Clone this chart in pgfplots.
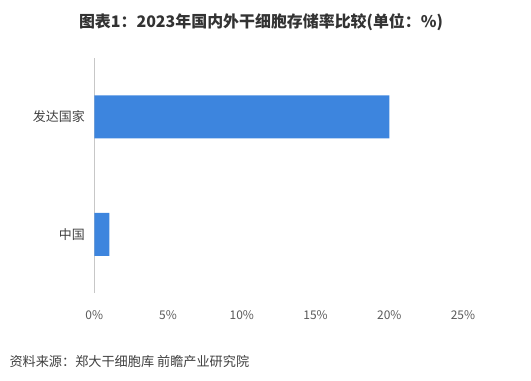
\documentclass[border=0pt]{standalone}
\usepackage{fontspec}
\setmainfont{Noto Sans CJK SC}
\usepackage{pgfplots}
\pgfplotsset{compat=1.18}
\definecolor{barblue}{RGB}{61,133,222}
\definecolor{txt}{RGB}{64,64,64}
\definecolor{tick}{RGB}{89,89,89}
\begin{document}
\begin{tikzpicture}
\path[use as bounding box] (0bp,0bp) rectangle (531bp,-381bp);
\node[font=\fontsize{16}{18}\selectfont\bfseries, text=black!80] at (261bp,-22bp) {图表1：2023年国内外干细胞存储率比较(单位：\%)};
\node[font=\fontsize{13.2}{15}\selectfont, text=txt, anchor=west] at (6bp,-361bp) {资料来源：郑大干细胞库 前瞻产业研究院};
\begin{axis}[
  at={(94.3bp,-293bp)}, anchor=south west,
  scale only axis, width=368.7bp, height=235bp,
  xmin=0, xmax=25, ymin=-0.5, ymax=1.5,
  xbar, bar width=43bp,
  axis x line*=bottom, axis y line*=left,
  x axis line style={draw=none},
  y axis line style={draw=black!22, -},
  major tick length=0pt,
  xtick={0,5,10,15,20,25},
  xticklabels={0\%,5\%,10\%,15\%,20\%,25\%},
  ytick={0,1},
  yticklabels={中国,发达国家},
  xticklabel style={font=\fontsize{12}{14}\selectfont, text=tick, yshift=-14bp},
  yticklabel style={font=\fontsize{13}{15}\selectfont, text=txt, xshift=-6bp},
  clip=false,
]
\addplot[fill=barblue, draw=none] coordinates {(1.02,0) (20,1)};
\end{axis}
\end{tikzpicture}
\end{document}
